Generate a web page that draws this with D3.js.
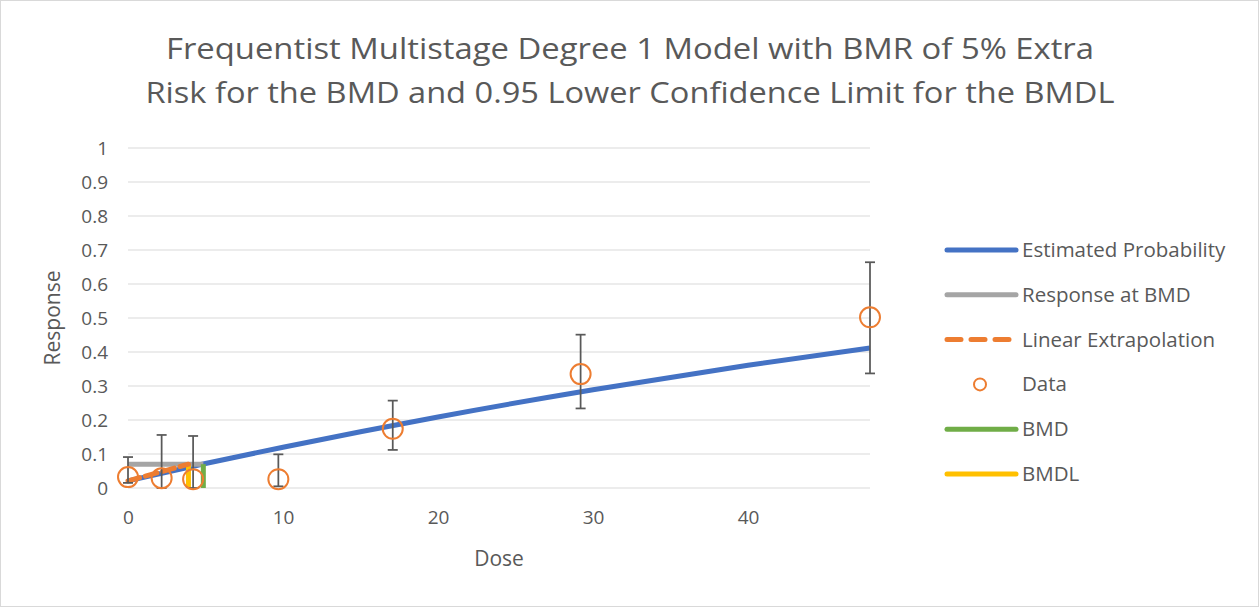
<!DOCTYPE html>
<html>
<head>
<meta charset="utf-8">
<script src="https://cdn.jsdelivr.net/npm/d3@7"></script>
<style>
  body { margin: 0; background: #fff; }
  text { font-family: "Open Sans", "Liberation Sans", sans-serif; fill: #595959; }
</style>
</head>
<body>
<svg id="chart" width="1259" height="607"></svg>
<script>
// data
var titleLines = ["Frequentist Multistage Degree 1 Model with BMR of 5% Extra",
                  "Risk for the BMD and 0.95 Lower Confidence Limit for the BMDL"]
var titleWidths = [928, 969]
var xTicks = [0, 10, 20, 30, 40]
var yTicks = [0, 0.1, 0.2, 0.3, 0.4, 0.5, 0.6, 0.7, 0.8, 0.9, 1]

var doses = [0, 2.17, 4.2, 9.7, 17.08, 29.2, 47.87]
var responses = [0.032, 0.029, 0.026, 0.026, 0.174, 0.335, 0.502]
var lowerCL = [0.015, 0, 0, 0.005, 0.112, 0.234, 0.337]
var upperCL = [0.091, 0.156, 0.153, 0.099, 0.257, 0.451, 0.664]

var estDose = [0, 5, 10, 20, 30, 40, 47.87]
var estProb = [0.021, 0.072, 0.12, 0.209, 0.289, 0.361, 0.412]

var bmd = 4.86
var bmdl = 3.9
var bmdResponse = 0.07
var extrapDose = [0, 3.9]
var extrapResp = [0.021, 0.07]

var legendNames = ["Estimated Probability", "Response at BMD", "Linear Extrapolation", "Data", "BMD", "BMDL"]

var svg = d3.select('#chart')
var W = 1259, H = 607

svg.append('rect')
    .attr('x', 0.5).attr('y', 0.5)
    .attr('width', W - 1).attr('height', H - 1)
    .attr('fill', '#fff').attr('stroke', '#d9d9d9')

var x = d3.scaleLinear().domain([0, 47.87]).range([128, 870])
var y = d3.scaleLinear().domain([0, 1]).range([488, 148])

// title
svg.append('g').selectAll('text')
    .data(titleLines)
    .join('text')
    .attr('x', 630)
    .attr('y', function(d, i) { return 59 + i * 44 })
    .attr('text-anchor', 'middle')
    .attr('textLength', function(d, i) { return titleWidths[i] })
    .attr('lengthAdjust', 'spacingAndGlyphs')
    .style('font-size', '30px')
    .text(function(d) { return d })

// gridlines
svg.append('g').selectAll('line')
    .data(yTicks)
    .join('line')
    .attr('x1', x(0)).attr('x2', x(47.87))
    .attr('y1', function(d) { return y(d) })
    .attr('y2', function(d) { return y(d) })
    .attr('stroke', '#d9d9d9').attr('stroke-width', 1)

// axes
var yAxis = svg.append('g')
    .attr('transform', 'translate(' + x(0) + ',0)')
    .call(d3.axisLeft(y).tickValues(yTicks).tickSize(0).tickPadding(20).tickFormat(d3.format('~g')))
yAxis.select('.domain').remove()
yAxis.selectAll('text').style('font-size', '19px').style('fill', '#595959')

var xAxis = svg.append('g')
    .attr('transform', 'translate(0,' + y(0) + ')')
    .call(d3.axisBottom(x).tickValues(xTicks).tickSize(0).tickPadding(23).tickFormat(d3.format('d')))
xAxis.select('.domain').remove()
xAxis.selectAll('text').style('font-size', '19px').style('fill', '#595959')

svg.append('text')
    .attr('x', 499).attr('y', 566)
    .attr('text-anchor', 'middle')
    .style('font-size', '21px')
    .text('Dose')

svg.append('text')
    .attr('transform', 'translate(60,' + y(0.5) + ') rotate(-90)')
    .attr('text-anchor', 'middle')
    .style('font-size', '21px')
    .text('Response')

// estimated probability
var line = d3.line()
    .x(function(d) { return x(d[0]) })
    .y(function(d) { return y(d[1]) })
    .curve(d3.curveMonotoneX)

svg.append('path')
    .datum(d3.zip(estDose, estProb))
    .attr('d', line)
    .attr('fill', 'none')
    .attr('stroke', '#4472c4').attr('stroke-width', 5)

// response at BMD
svg.append('path')
    .datum([[0, bmdResponse], [bmd, bmdResponse]])
    .attr('d', line)
    .attr('stroke', '#a5a5a5').attr('stroke-width', 5)

// BMDL / BMD verticals
svg.append('path')
    .datum([[bmdl, 0], [bmdl, bmdResponse]])
    .attr('d', line)
    .attr('stroke', '#ffc000').attr('stroke-width', 5)
svg.append('path')
    .datum([[bmd, 0], [bmd, bmdResponse]])
    .attr('d', line)
    .attr('stroke', '#70ad47').attr('stroke-width', 5)

// linear extrapolation
svg.append('path')
    .datum(d3.zip(extrapDose, extrapResp))
    .attr('d', d3.line().x(function(d) { return x(d[0]) }).y(function(d) { return y(d[1]) }))
    .attr('fill', 'none')
    .attr('stroke', '#ed7d31').attr('stroke-width', 5)
    .attr('stroke-dasharray', '12,6')
    .attr('stroke-linecap', 'round')

// error bars
var pts = doses.map(function(d, i) {
    return {dose: d, r: responses[i], lo: lowerCL[i], hi: upperCL[i]}
})
var eb = svg.append('g').selectAll('g')
    .data(pts)
    .join('g')
eb.append('line')
    .attr('x1', function(d) { return x(d.dose) })
    .attr('x2', function(d) { return x(d.dose) })
    .attr('y1', function(d) { return y(d.lo) })
    .attr('y2', function(d) { return y(d.hi) })
    .attr('stroke', '#595959').attr('stroke-width', 1.75)
eb.selectAll('.cap')
    .data(function(d) { return [{dose: d.dose, v: d.lo}, {dose: d.dose, v: d.hi}] })
    .join('line')
    .attr('class', 'cap')
    .attr('x1', function(d) { return x(d.dose) - 5 })
    .attr('x2', function(d) { return x(d.dose) + 5 })
    .attr('y1', function(d) { return y(d.v) })
    .attr('y2', function(d) { return y(d.v) })
    .attr('stroke', '#595959').attr('stroke-width', 1.75)

// data circles
svg.append('g').selectAll('circle')
    .data(pts)
    .join('circle')
    .attr('cx', function(d) { return x(d.dose) })
    .attr('cy', function(d) { return y(d.r) })
    .attr('r', 10)
    .attr('fill', 'none')
    .attr('stroke', '#ed7d31').attr('stroke-width', 2)

// legend
var legendColors = ['#4472c4', '#a5a5a5', '#ed7d31', '#ed7d31', '#70ad47', '#ffc000']
var lg = svg.append('g').selectAll('g')
    .data(legendNames)
    .join('g')
    .attr('transform', function(d, i) { return 'translate(945,' + (250 + i * 44.8) + ')' })

lg.each(function(d, i) {
    var g = d3.select(this)
    if (i == 3) {
        g.append('circle').attr('cx', 35).attr('cy', 0).attr('r', 6)
            .attr('fill', 'none').attr('stroke', legendColors[i]).attr('stroke-width', 2)
    } else {
        g.append('line').attr('x1', 2).attr('x2', 71).attr('y1', 0).attr('y2', 0)
            .attr('stroke', legendColors[i]).attr('stroke-width', 5)
            .attr('stroke-linecap', 'round')
            .attr('stroke-dasharray', i == 2 ? '14,10' : null)
    }
    g.append('text').attr('x', 77).attr('y', 7)
        .style('font-size', '20.5px')
        .text(d)
})
</script>
</body>
</html>
